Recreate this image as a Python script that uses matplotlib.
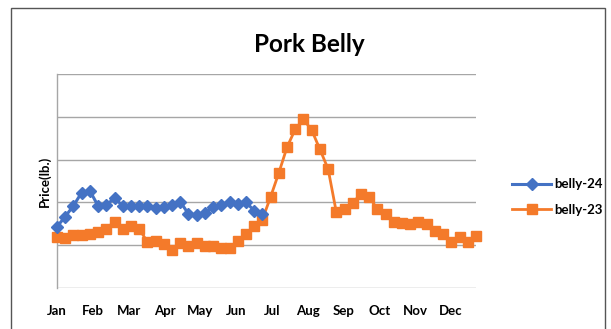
import matplotlib
matplotlib.use("Agg")
import matplotlib.pyplot as plt
from matplotlib.patches import Rectangle

months = ["Jan", "Feb", "Mar", "Apr", "May", "Jun", "Jul", "Aug", "Sep", "Oct", "Nov", "Dec"]

belly_24 = [1.43, 1.67, 1.92, 2.23, 2.27, 1.92, 1.94, 2.10, 1.92, 1.92, 1.92, 1.92, 1.86,
            1.90, 1.94, 2.02, 1.73, 1.71, 1.76, 1.90, 1.94, 2.02, 1.96, 2.00, 1.81, 1.73]

belly_23 = [1.20, 1.16, 1.24, 1.24, 1.26, 1.32, 1.39, 1.55, 1.39, 1.46, 1.38, 1.08, 1.10,
            1.03, 0.89, 1.04, 0.98, 1.04, 0.98, 0.97, 0.93, 0.94, 1.10, 1.26, 1.45, 1.60,
            2.13, 2.69, 3.29, 3.71, 3.94, 3.69, 3.24, 2.78, 1.77, 1.85, 1.99, 2.20, 2.12,
            1.85, 1.74, 1.55, 1.53, 1.49, 1.54, 1.49, 1.34, 1.26, 1.08, 1.18, 1.08, 1.22]

FONT = "Lato"
BLUE = "#4472C4"
ORANGE = "#F47A2A"

fig = plt.figure(figsize=(6.11, 3.29), dpi=100)
fig.patches.append(Rectangle((11/611, -0.05), (605-11)/611, (329-8)/329 + 0.05,
                             transform=fig.transFigure, fill=False, edgecolor="#555555",
                             linewidth=1.0))

ax = fig.add_axes([57/611, 1 - 288/329, (476-57)/611, (288-74)/329])

x24 = list(range(len(belly_24)))
x23 = list(range(len(belly_23)))
ax.plot(x24, belly_24, color=BLUE, linewidth=2.2, marker="D", markersize=6,
        label="belly-24", clip_on=False, zorder=4)
ax.plot(x23, belly_23, color=ORANGE, linewidth=2.0, marker="s", markersize=7,
        label="belly-23", clip_on=False, zorder=3)

ax.set_xlim(0, len(belly_23) - 1)
ax.set_ylim(0, 5)
ax.set_yticks(range(0, 6))
ax.set_yticklabels([])
ax.tick_params(axis="y", length=0)
ax.grid(axis="y", color="#A6A6A6", linewidth=1.0)
ax.set_axisbelow(True)
for s in ["top", "right", "bottom"]:
    ax.spines[s].set_visible(False)
ax.spines["left"].set_color("#A6A6A6")
ax.spines["left"].set_linewidth(1.0)

step = (len(belly_23) - 1) / 11.7
ax.set_xticks([i * step for i in range(len(months))])
ax.set_xticklabels(months, fontfamily=FONT, fontweight="bold", fontsize=9.5)
ax.tick_params(axis="x", length=0, pad=12)

ax.set_ylabel("Price(lb.)", fontfamily=FONT, fontweight="bold", fontsize=9.5, labelpad=1)

fig.text(309/611, 1 - 45/329, "Pork Belly", ha="center", va="center",
         fontfamily=FONT, fontweight="bold", fontsize=17.5)

fig.legend(loc="center left", bbox_to_anchor=(500/611, 1 - 197/329), frameon=False,
           prop={"family": FONT, "weight": "bold", "size": 9.5},
           handlelength=3.0, labelspacing=1.0, handletextpad=0.2)

fig.savefig("out.png", dpi=100)
